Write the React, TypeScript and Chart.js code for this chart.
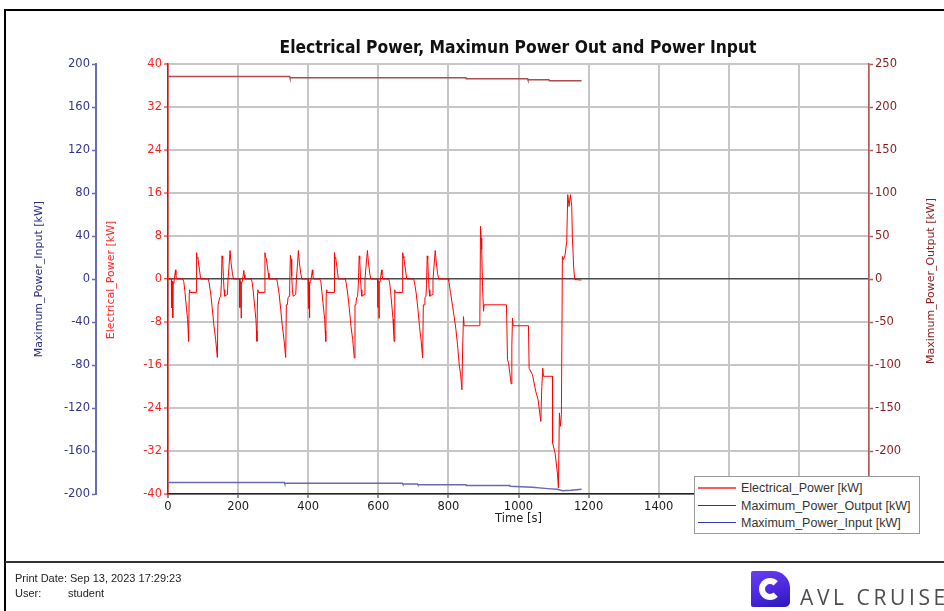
import React, { useEffect, useRef } from 'react';
import { Chart, registerables } from 'chart.js';

Chart.register(...registerables);

// ---- Electrical_Power [kW] (left red axis), time in s ----
const elecTime = [
  0, 9.5, 10, 10.5, 12, 13.3, 13.8, 14.3, 17, 21.4, 22.5, 24.3, 42.4, 45, 48.2, 53, 55.8, 57.5, 58.7, 60.6, 61.5, 62.5, 80.6, 81.6, 83, 85.4, 88.3, 91.1, 93,
  115, 117, 121.7, 126.5, 131.2, 136, 140.8, 142.7, 145.5, 147.5, 150.3, 152.2, 154.1, 156, 158, 159.9, 161.8, 169.4, 171.3, 174.2, 177, 179.9, 183.7, 186.6,
  204.5, 205, 205.5, 207, 208.3, 208.8, 209.3, 212, 216.4, 217.5, 219.3, 237.4, 240, 243.2, 248, 250.8, 252.5, 253.7, 255.6, 256.5, 257.5, 275.6, 276.6, 278, 280.4, 283.3, 286.1, 288,
  310, 312, 316.7, 321.5, 326.2, 331, 335.8, 337.7, 340.5, 342.5, 345.3, 347.2, 349.1, 351, 353, 354.9, 356.8, 364.4, 366.3, 369.2, 372, 374.9, 378.7, 381.6,
  399.5, 400, 400.5, 402, 403.3, 403.8, 404.3, 407, 412, 413, 415, 433, 436, 439, 444, 447, 448.5, 450, 451.5, 452.5, 453.5, 474, 475, 476.5, 478.5, 481.5, 484, 486,
  506, 508, 512.5, 517.5, 522, 527, 531.5, 533.5, 536, 538, 541, 543, 545.5, 547, 549, 551, 553, 560, 562, 565, 569, 572, 575.5, 578.5,
  598, 598.5, 599, 600.5, 601.5, 602, 602.5, 605, 609.5, 610.5, 612.5, 629, 632, 635, 639.5, 642, 643.5, 645, 646.5, 647.5, 648.5, 668.5, 669.5, 671, 673, 676, 679, 681,
  701, 703, 708, 713, 717.5, 722, 726.5, 728.5, 731, 733, 736, 737.5, 739.5, 741, 743, 745, 747, 754, 756, 759, 762.5, 765.5, 769, 772,
  800, 801, 806, 812, 817, 821.5, 826, 831, 835, 838.5, 840.5, 843, 845, 888, 889.8, 891.7, 893.5, 895, 897.4, 900.2, 902,
  965.7, 968.6, 971.5, 975.2, 979, 981, 982.8, 984.7, 1028.4, 1030.3, 1039.8, 1049.3, 1056, 1063.6, 1066.5, 1069.3, 1071.2,
  1096.8, 1097.3, 1104.4, 1111, 1113.9, 1116.7, 1119.6, 1122.4, 1125.3, 1128.1, 1132.9, 1137.6, 1140.5, 1144.3, 1148.1, 1151.9, 1153.8, 1157.6, 1160.4, 1179.4,
];
const elecPower = [
  0, 0, -5.4, -0.6, -0.4, -0.6, -7.2, -0.8, -0.5, 1.7, 0.8, 0, 0, -0.5, -2.3, -5.6, -7.5, -9.6, -11.6, -2.6, -2.0, -2.5, -2.5, 4.9, 4.0, 3.9, 2.4, 1.1, 0,
  0, -0.6, -2.6, -5.6, -8.8, -11.3, -14.6, -4.8, -4.8, -3.5, -3.2, -1.0, 4.3, 3.7, 0.5, -2.0, -3.2, -2.9, -0.1, 2.4, 5.3, 3.0, 1.1, 0,
  0, -5.3, -0.6, -0.4, -0.6, -7.3, -0.8, -0.5, 1.6, 0.8, 0, 0, -0.5, -2.3, -5.6, -7.5, -9.6, -11.6, -2.6, -2.0, -2.5, -2.5, 4.9, 4.0, 3.9, 2.4, 1.1, 0,
  0, -0.6, -2.6, -5.6, -8.8, -11.3, -14.6, -4.8, -4.8, -3.5, -3.2, -1.0, 4.4, 3.7, 0.5, -2.0, -3.2, -2.9, -0.1, 2.4, 5.3, 3.0, 1.1, 0,
  0, -5.5, -0.6, -0.4, -0.6, -7.2, -0.8, -0.5, 1.7, 0.8, 0, 0, -0.5, -2.3, -5.6, -7.5, -9.6, -11.6, -2.6, -2.0, -2.5, -2.5, 4.9, 4.0, 3.9, 2.4, 1.1, 0,
  0, -0.6, -2.6, -5.6, -8.8, -11.3, -14.7, -4.8, -4.8, -3.5, -3.2, -1.0, 4.3, 3.7, 0.5, -2.0, -3.2, -2.9, -0.1, 2.4, 5.3, 3.0, 1.1, 0,
  0, -5.3, -0.6, -0.4, -0.6, -7.3, -0.8, -0.5, 1.7, 0.8, 0, 0, -0.5, -2.3, -5.6, -7.5, -9.6, -11.6, -2.6, -2.0, -2.5, -2.5, 4.9, 4.2, 3.9, 2.4, 1.1, 0,
  0, -0.6, -2.6, -5.6, -8.8, -11.3, -14.7, -4.8, -4.8, -3.5, -3.2, -1.0, 4.3, 3.7, 0.5, -2.0, -3.2, -2.9, -0.1, 2.4, 5.3, 3.0, 1.1, 0,
  0, -0.3, -2.5, -5.1, -7.2, -9.4, -12.2, -16.0, -17.8, -20.6, -13.2, -7.0, -8.7, -8.7, -7.0, 9.8, 7.6, 5.5, -1.4, -6.0, -4.8,
  -4.8, -15.0, -15.6, -17.5, -19.5, -12.5, -7.3, -8.7, -8.7, -16.6, -17.8, -20.9, -22.5, -26.5, -20.0, -16.6, -18.1,
  -18.1, -30.5, -32.4, -36.1, -38.9, -24.9, -27.4, -25.2, 4.2, 3.6, 4.5, 7.0, 15.7, 13.5, 15.7, 13.5, 7.6, 2.0, -0.1, -0.2,
];

// ---- Maximum_Power_Output [kW] (right axis) ----
const outTime = [0, 347, 348, 850, 851, 1026, 1027, 1087, 1088, 1180];
const outPower = [235.6, 235.6, 234.1, 234.1, 232.9, 232.9, 231.7, 231.7, 230.6, 230.6];

// ---- Maximum_Power_Input [kW] (outer left blue axis) ----
const inTime = [0, 332, 333, 669, 670, 712, 713, 850, 851, 975, 976, 1040, 1083, 1110, 1126, 1150, 1180];
const inPower = [-189.2, -189.2, -190.1, -190.1, -190.7, -190.7, -191.3, -191.3, -192.0, -192.0, -192.9, -193.8, -195.0, -195.6, -196.9, -196.6, -195.6];

const titleText = 'Electrical Power, Maximun Power Out and Power Input';
const legendItems = [
  { label: 'Electrical_Power [kW]', color: '#ff5a5a' },
  { label: 'Maximum_Power_Output [kW]', color: '#8b1f1f' },
  { label: 'Maximum_Power_Input [kW]', color: '#3434b4' },
];

const toPts = (ts: number[], vs: number[]) => ts.map((t, i) => ({ x: t, y: vs[i] }));

const tickFont = { family: 'DejaVu Sans', size: 11.5 };

const yTitlePlugin = {
  id: 'yTitles',
  afterDraw(chart: any) {
    const ctx = chart.ctx;
    const draw = (text: string, x: number, y: number, color: string) => {
      ctx.save();
      ctx.translate(x, y);
      ctx.rotate(-Math.PI / 2);
      ctx.font = '11px "DejaVu Sans"';
      ctx.fillStyle = color;
      ctx.textAlign = 'center';
      ctx.textBaseline = 'middle';
      ctx.fillText(text, 0, 0);
      ctx.restore();
    };
    draw('Maximum_Power_Input [kW]', 39, 279, '#2c2c86');
    draw('Electrical_Power [kW]', 111.5, 280, '#ff2a2a');
    draw('Maximum_Power_Output [kW]', 931, 281, '#8a1c1c');
  },
};

export default function App() {
  const ref = useRef<HTMLCanvasElement>(null);

  useEffect(() => {
    const canvas = ref.current as HTMLCanvasElement;
    const chart = new Chart(canvas, {
      type: 'line',
      data: {
        datasets: [
          {
            label: 'Electrical_Power [kW]',
            data: toPts(elecTime, elecPower),
            borderColor: '#ff0000',
            borderWidth: 1,
            pointRadius: 0,
            yAxisID: 'yRed',
            xAxisID: 'x',
          },
          {
            label: 'Maximum_Power_Output [kW]',
            data: toPts(outTime, outPower),
            borderColor: '#ac4c4c',
            borderWidth: 1.5,
            pointRadius: 0,
            yAxisID: 'yOut',
            xAxisID: 'x',
          },
          {
            label: 'Maximum_Power_Input [kW]',
            data: toPts(inTime, inPower),
            borderColor: '#6868b8',
            borderWidth: 1.5,
            pointRadius: 0,
            yAxisID: 'yIn',
            xAxisID: 'x',
          },
        ],
      } as any,
      options: {
        animation: false,
        responsive: false,
        maintainAspectRatio: false,
        layout: { padding: { left: 0, right: 0, top: 64, bottom: 85 } },
        plugins: {
          legend: { display: false },
          tooltip: { enabled: false },
          title: { display: false },
        },
        elements: { line: { tension: 0 }, point: { radius: 0 } },
        scales: {
          x: {
            type: 'linear',
            position: 'bottom',
            min: 0,
            max: 2000,
            ticks: {
              stepSize: 200,
              autoSkip: false,
              maxRotation: 0,
              padding: 2,
              color: '#1a1a1a',
              font: tickFont,
              callback: (v: any) => String(v),
            },
            grid: { color: '#c6c6c6', lineWidth: 2, tickLength: 4, tickColor: '#222', tickWidth: 1 },
            border: { color: '#222', width: 1.5 },
            title: {
              display: true,
              text: 'Time [s]',
              color: '#222',
              font: { family: 'DejaVu Sans', size: 11.5 },
              padding: { top: 0, bottom: 0 },
            },
            afterFit: (s: any) => { s.height = 32; },
          },
          yIn: {
            type: 'linear',
            position: 'left',
            weight: 10,
            min: -200,
            max: 200,
            ticks: { stepSize: 40, padding: 2, color: '#34348c', font: tickFont },
            grid: { drawOnChartArea: false, tickLength: 4, tickColor: '#6b6bb5', tickWidth: 1.5 },
            border: { color: '#6b6bb5', width: 2 },
            afterFit: (s: any) => { s.width = 96; },
          },
          yRed: {
            type: 'linear',
            position: 'left',
            weight: 0,
            min: -40,
            max: 40,
            ticks: { stepSize: 8, padding: 2, color: '#ff1f1f', font: tickFont },
            grid: {
              color: (c: any) => (c.tick && c.tick.value === 0 ? '#4a4a4a' : '#c6c6c6'),
              lineWidth: (c: any) => (c.tick && c.tick.value === 0 ? 1.5 : 2),
              tickLength: 4,
              tickColor: '#ff0000',
              tickWidth: 1,
            },
            border: { color: '#ff0000', width: 1.5 },
            afterFit: (s: any) => { s.width = 72; },
          },
          yOut: {
            type: 'linear',
            position: 'right',
            min: -250,
            max: 250,
            ticks: { stepSize: 50, padding: 2, color: '#8b1c1c', font: tickFont },
            grid: { drawOnChartArea: false, tickLength: 4, tickColor: '#b45a5a', tickWidth: 1.5 },
            border: { color: '#b45a5a', width: 1.5 },
            afterFit: (s: any) => { s.width = 75; },
          },
        },
      } as any,
      plugins: [yTitlePlugin],
    });
    return () => chart.destroy();
  }, []);

  return (
    <div
      style={{
        position: 'fixed',
        left: 0,
        top: 0,
        width: 944,
        height: 611,
        background: '#fff',
        overflow: 'hidden',
      }}
    >
      <canvas
        ref={ref}
        width={944}
        height={611}
        style={{ position: 'absolute', left: 0, top: 0, width: 944, height: 611 }}
      />
      {/* frame */}
      <div style={{ position: 'absolute', left: 4, top: 9, width: 2, height: 602, background: '#000' }} />
      <div style={{ position: 'absolute', left: 4, top: 9, width: 940, height: 2, background: '#000' }} />
      <div style={{ position: 'absolute', left: 5, top: 561, width: 939, height: 1.5, background: '#333' }} />
      {/* title */}
      <div
        style={{
          position: 'absolute',
          left: 518,
          top: 38,
          transform: 'translateX(-50%)',
          whiteSpace: 'nowrap',
          fontFamily: '"DejaVu Sans Condensed", "DejaVu Sans", sans-serif',
          fontStretch: 'condensed',
          fontWeight: 'bold',
          fontSize: 17.3,
          lineHeight: '18px',
          color: '#111',
        }}
      >
        {titleText}
      </div>
      {/* legend */}
      <div
        style={{
          position: 'absolute',
          left: 694,
          top: 476,
          width: 226,
          height: 58,
          boxSizing: 'border-box',
          background: '#fff',
          border: '1px solid #9a9a9a',
        }}
      >
        {legendItems.map((it, i) => (
          <React.Fragment key={it.label}>
            <div
              style={{
                position: 'absolute',
                left: 3,
                top: 10 + i * 17.5,
                width: 38,
                height: i === 0 ? 1.5 : 1.2,
                background: it.color,
              }}
            />
            <div
              style={{
                position: 'absolute',
                left: 46,
                top: 3 + i * 17.5,
                whiteSpace: 'nowrap',
                fontFamily: '"Liberation Sans", Arial, sans-serif',
                fontSize: 12.5,
                lineHeight: '16px',
                color: '#333',
              }}
            >
              {it.label}
            </div>
          </React.Fragment>
        ))}
      </div>
      {/* footer */}
      <div
        style={{
          position: 'absolute',
          left: 15,
          top: 571,
          whiteSpace: 'nowrap',
          fontFamily: '"Liberation Sans", Arial, sans-serif',
          fontSize: 11,
          lineHeight: '14px',
          color: '#222',
        }}
      >
        Print Date: Sep 13, 2023 17:29:23
      </div>
      <div
        style={{
          position: 'absolute',
          left: 15,
          top: 585.5,
          whiteSpace: 'nowrap',
          fontFamily: '"Liberation Sans", Arial, sans-serif',
          fontSize: 11,
          lineHeight: '14px',
          color: '#222',
        }}
      >
        User:
      </div>
      <div
        style={{
          position: 'absolute',
          left: 68,
          top: 585.5,
          whiteSpace: 'nowrap',
          fontFamily: '"Liberation Sans", Arial, sans-serif',
          fontSize: 11,
          lineHeight: '14px',
          color: '#222',
        }}
      >
        student
      </div>
      {/* logo */}
      <div
        style={{
          position: 'absolute',
          left: 751,
          top: 571,
          width: 39,
          height: 36,
          background: 'linear-gradient(160deg, #6c3df2 0%, #4a28de 55%, #2a18b4 100%)',
          borderRadius: '2px 17px 5px 2px',
        }}
      >
        <div
          style={{
            position: 'absolute',
            left: 8,
            top: 7,
            width: 10,
            height: 10,
            border: '6.5px solid #fff',
            borderRightColor: 'transparent',
            borderRadius: '50%',
          }}
        />
      </div>
      <div
        style={{
          position: 'absolute',
          left: 800,
          top: 584,
          whiteSpace: 'nowrap',
          fontFamily: '"Open Sans", "Noto Sans", sans-serif',
          fontSize: 21,
          lineHeight: '26px',
          letterSpacing: 3.6,
          color: '#4d4d4d',
        }}
      >
        AVL CRUISE
      </div>
    </div>
  );
}
